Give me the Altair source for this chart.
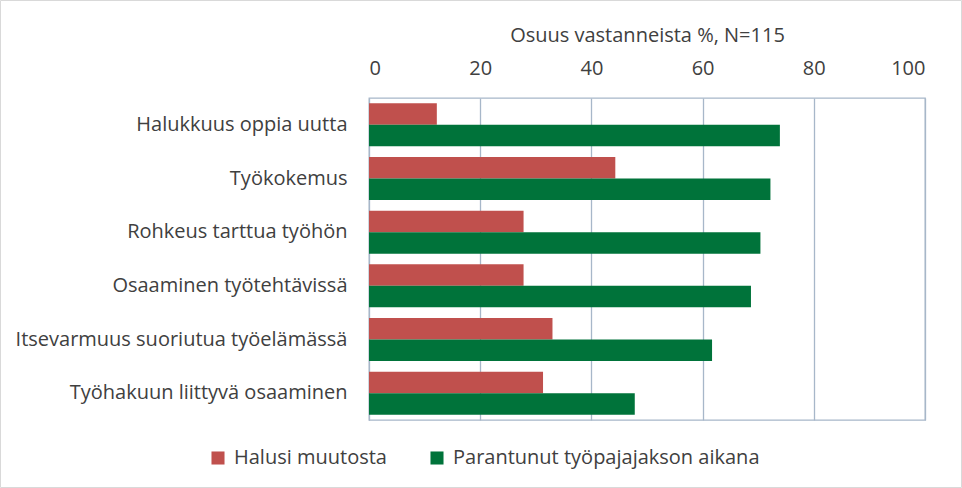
import altair as alt
import pandas as pd

categories = [
    "Halukkuus oppia uutta",
    "Työkokemus",
    "Rohkeus tarttua työhön",
    "Osaaminen työtehtävissä",
    "Itsevarmuus suoriutua työelämässä",
    "Työhakuun liittyvä osaaminen",
]
series = ["Halusi muutosta", "Parantunut työpajajakson aikana"]
halusi = [12.2, 44.3, 27.8, 27.8, 33.0, 31.3]
parantunut = [73.9, 72.2, 70.4, 68.7, 61.7, 47.8]
colors = ["#C0504D", "#00733A"]
x_ticks = [0, 20, 40, 60, 80, 100]

rows = []
for c, a, b in zip(categories, halusi, parantunut):
    rows.append({"kategoria": c, "sarja": series[0], "arvo": a})
    rows.append({"kategoria": c, "sarja": series[1], "arvo": b})
df = pd.DataFrame(rows)

FONT = "Open Sans"
FS = 20
GRID = "#A7B7C9"
TXT = "#404040"

bars = alt.Chart(df).mark_bar().encode(
    y=alt.Y("kategoria:N", sort=categories,
            scale=alt.Scale(paddingInner=0.2, paddingOuter=0.1),
            axis=alt.Axis(title=None, ticks=False, domain=True, domainColor=GRID,
                          labelPadding=22, labelFontSize=FS, labelFont=FONT,
                          labelColor=TXT, labelLimit=400)),
    yOffset=alt.YOffset("sarja:N", sort=series),
    x=alt.X("arvo:Q", scale=alt.Scale(domain=[0, 100], nice=False),
            axis=alt.Axis(orient="top", values=x_ticks, title="Osuus vastanneista %, N=115",
                          ticks=False, domain=False, grid=True, gridColor=GRID,
                          gridWidth=1.3, labelPadding=20, labelFontSize=FS,
                          labelFont=FONT, labelColor=TXT, titleFont=FONT,
                          titleFontSize=FS, titleFontWeight="normal", titleColor=TXT,
                          titlePadding=13)),
    color=alt.Color("sarja:N", sort=series,
                    scale=alt.Scale(domain=series, range=colors),
                    legend=alt.Legend(title=None, orient="none", direction="horizontal",
                                      legendX=-161, legendY=350, symbolType="square",
                                      symbolSize=170, symbolStrokeWidth=0,
                                      labelFont=FONT, labelFontSize=FS, labelColor=TXT,
                                      columnPadding=40, labelLimit=400, labelOffset=6)),
)

frame = alt.Chart(pd.DataFrame({"k": [0]})).mark_rect(
    fill=None, stroke="#D9D9D9", strokeWidth=1
).encode(x=alt.value(-368.5), x2=alt.value(592.5), y=alt.value(-97.5), y2=alt.value(389.5))

chart = alt.layer(bars, frame).properties(
    width=556, height=322,
    autosize=alt.AutoSizeParams(type="none"),
    padding={"left": 369, "top": 98, "right": 37, "bottom": 68},
    background="white",
).configure_view(stroke=GRID, strokeWidth=1.3)

chart.save("out.html", embed_options={"renderer": "svg", "actions": False})
